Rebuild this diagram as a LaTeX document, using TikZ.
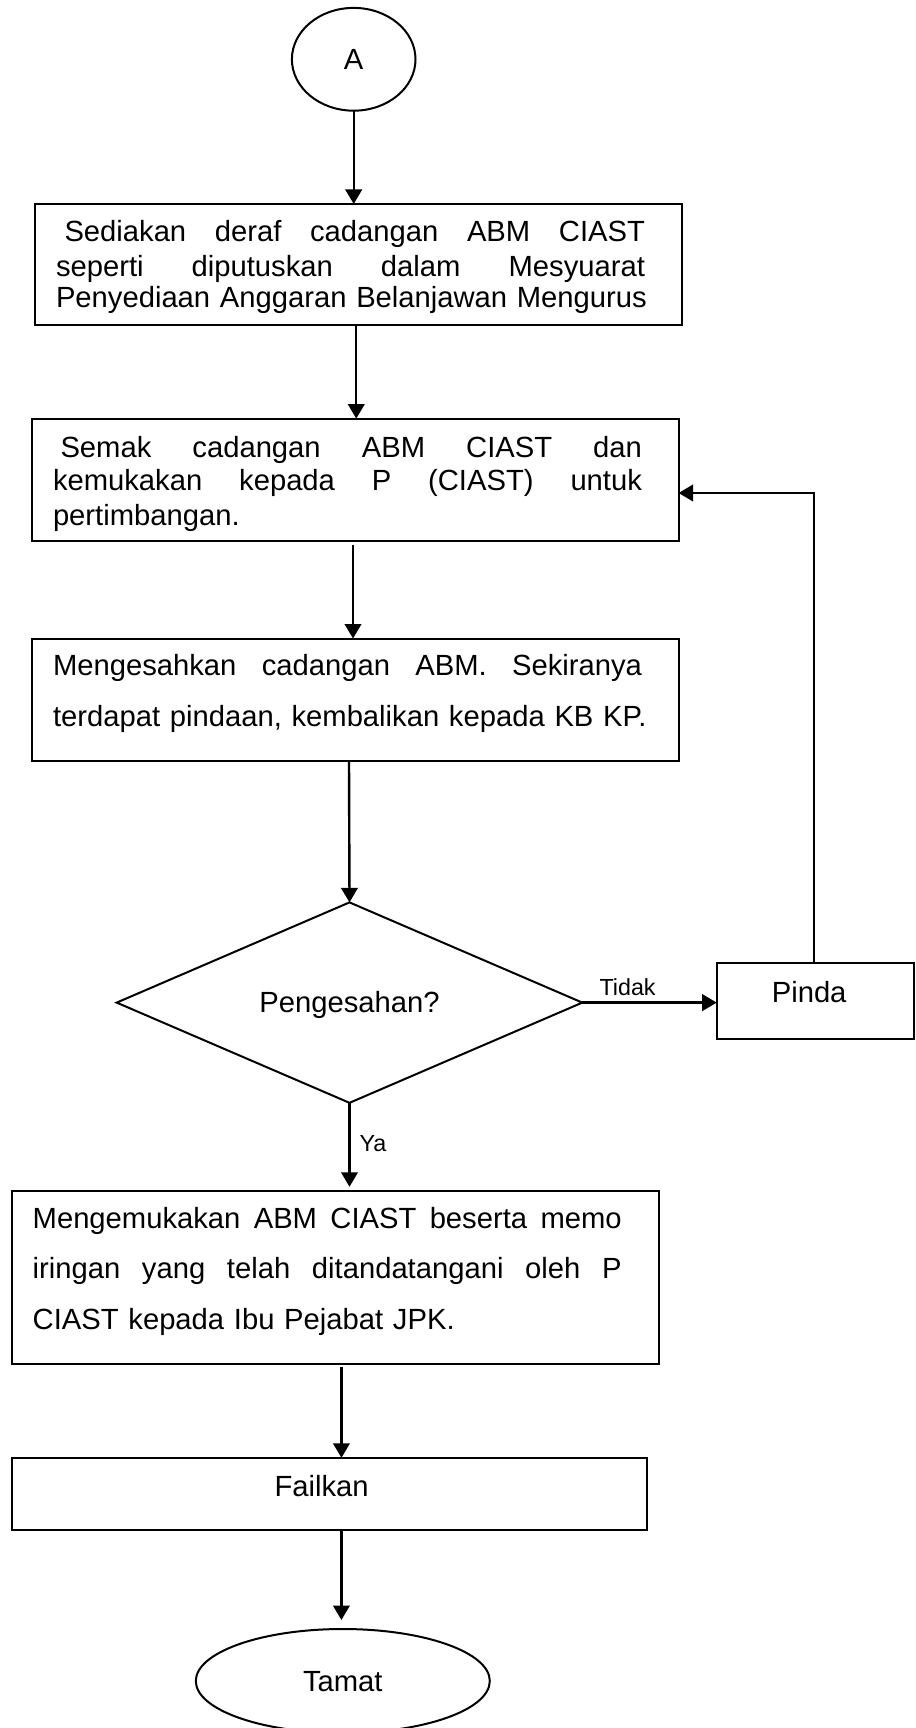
\documentclass[tikz,border=0pt]{standalone}
\usepackage{fontspec}
\setmainfont{Liberation Sans}
\usetikzlibrary{arrows.meta,shapes.geometric}
\newcommand\bigsz{\fontsize{29.2pt}{35pt}\selectfont\frenchspacing}
\newcommand\smsz{\fontsize{23.3pt}{28pt}\selectfont}
\newcommand\jline[2][0pt]{\hbox to 589pt{\kern#1\spaceskip=.278em plus 1fil\relax #2}}
\newcommand\tight{\baselineskip=0pt\lineskip=0pt\lineskiplimit=-\maxdimen}
\tikzset{
  box/.style={draw, line width=2pt, rectangle, inner xsep=21pt, inner ysep=0pt, outer sep=0pt, font=\bigsz, anchor=north west},
  sbox/.style={draw, line width=2pt, rectangle, inner sep=0pt, outer sep=0pt, font=\bigsz, anchor=north west, text depth=0pt},
  term/.style={draw, line width=2pt, ellipse, inner sep=0pt, outer sep=0pt, font=\bigsz, text depth=0pt},
  decis/.style={draw, line width=2pt, diamond, inner sep=0pt, outer sep=0pt, font=\bigsz, text depth=0pt},
  arr/.style={draw, line width=2.4pt, -{Triangle[length=14.5pt,width=16.5pt]}},
  lbl/.style={font=\smsz, inner sep=0pt, anchor=base west}
}
\begin{document}
\begin{tikzpicture}[x=1pt,y=-1pt]
\useasboundingbox (0,0) rectangle (915,1728);

\node[term, minimum width=123.6pt, minimum height=102.8pt, text height=20.6pt] (A) at (353.7,59.3) {A};

\node[box, text width=604.5pt, text height=38pt, text depth=83.3pt] (b1) at (35,204)
 {\tight\jline[8.5pt]{Sediakan deraf cadangan ABM CIAST}\vskip35pt
  \jline{seperti diputuskan dalam Mesyuarat}\vskip30.5pt
  \hbox{Penyediaan Anggaran Belanjawan Mengurus}};

\node[box, text width=604.6pt, text height=38.4pt, text depth=84pt] (b2) at (32,418.6)
 {\tight\jline[7.5pt]{Semak cadangan ABM CIAST dan}\vskip33pt
  \jline{kemukakan kepada P (CIAST) untuk}\vskip35pt
  \hbox{pertimbangan.}};

\node[box, text width=604.6pt, text height=36.8pt, text depth=85.2pt] (b3) at (32,638.5)
 {\tight\jline{Mengesahkan cadangan ABM. Sekiranya}\vskip51.3pt
  \hbox{terdapat pindaan, kembalikan kepada KB KP.}};

\node[decis, minimum width=465.6pt, minimum height=192.9pt, text height=20.2pt] (dia) at (349.5,1002.6) {Pengesahan?};

\node[sbox, minimum width=197.3pt, minimum height=76pt, text height=2pt] (pin) at (716.7,963.3) {Pinda\kern12.4pt};

\node[box, text width=605.7pt, text height=38pt, text depth=134.7pt] (b4) at (11.7,1190.8)
 {\tight\jline{Mengemukakan ABM CIAST beserta memo}\vskip49.7pt
  \jline{iringan yang telah ditandatangani oleh P}\vskip50.5pt
  \hbox{CIAST kepada Ibu Pejabat JPK.}};

\node[sbox, minimum width=634.8pt, minimum height=71.9pt, text height=5.5pt] (b5) at (11.7,1457.8) {Failkan\kern15pt};

\node[term, minimum width=294pt, minimum height=104pt, text height=20pt] (tam) at (342.8,1681) {Tamat};

\node[lbl] (tidak) at (599.3,995) {Tidak};
\node[lbl] (ya) at (359.3,1151.7) {Ya};

\draw[arr] (A.south) -- (A.south |- b1.north);
\draw[arr] ([xshift=-2pt]b1.south) -- ([xshift=-2pt]b1.south |- b2.north);
\draw[arr, shorten <=3.5pt] ([xshift=-2.3pt]b2.south) -- ([xshift=-2.3pt]b2.south |- b3.north);
\draw[arr] ([xshift=-6.3pt]b3.south) -- (dia.north);
\draw[arr] (dia.east) -- (dia.east -| pin.west);
\draw[arr] ([xshift=-1.4pt]pin.north) |- ([yshift=-13.2pt]b2.east);
\draw[arr, shorten >=4pt] (dia.south) -- (dia.south |- b4.north);
\draw[arr, shorten <=3.5pt] ([xshift=5.9pt]b4.south) -- ([xshift=5.9pt]b4.south |- b5.north);
\draw[arr, shorten >=9pt] ([xshift=12.3pt]b5.south) -- ([xshift=12.3pt]b5.south |- tam.north);
\end{tikzpicture}
\end{document}
